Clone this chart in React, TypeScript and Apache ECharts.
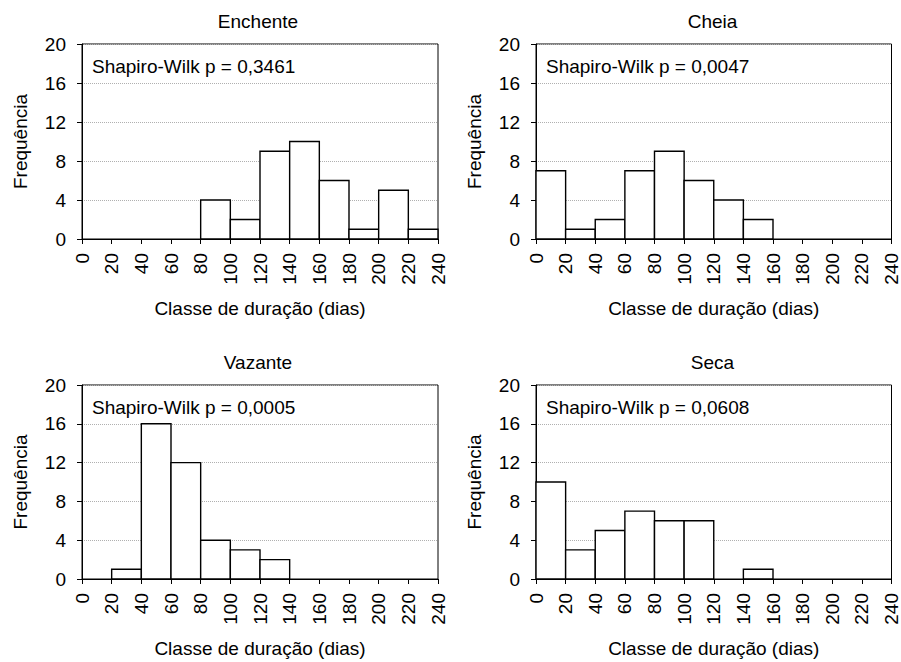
import React, { useEffect, useRef } from "react";
import * as echarts from "echarts";

// Class edges (days) and frequency of each 20-day class
const binEdges = [0, 20, 40, 60, 80, 100, 120, 140, 160, 180, 200, 220, 240];
const enchenteCounts = [0, 0, 0, 0, 4, 2, 9, 10, 6, 1, 5, 1];
const cheiaCounts = [7, 1, 2, 7, 9, 6, 4, 2, 0, 0, 0, 0];
const vazanteCounts = [0, 1, 16, 12, 4, 3, 2, 0, 0, 0, 0, 0];
const secaCounts = [10, 3, 5, 7, 6, 6, 0, 1, 0, 0, 0, 0];

const panelTitles = ["Enchente", "Cheia", "Vazante", "Seca"];
const shapiroLabels = [
  "Shapiro-Wilk p = 0,3461",
  "Shapiro-Wilk p = 0,0047",
  "Shapiro-Wilk p = 0,0005",
  "Shapiro-Wilk p = 0,0608",
];
const yTicks = [0, 4, 8, 12, 16, 20];

const FONT = "'Liberation Sans', Arial, sans-serif";
const TXT = "#000";
const FS = 19;

const grids = [
  { left: 82, top: 44, width: 356, height: 195 },
  { left: 536, top: 44, width: 357, height: 195 },
  { left: 82, top: 385, width: 356, height: 194 },
  { left: 536, top: 385, width: 357, height: 194 },
];

export default function App() {
  const ref = useRef<HTMLDivElement>(null);

  useEffect(() => {
    if (!ref.current) return;
    const chart = echarts.init(ref.current, null, { renderer: "svg" });
    const allCounts = [enchenteCounts, cheiaCounts, vazanteCounts, secaCounts];

    const xAxis = grids.map((_, i) => ({
      type: "value",
      gridIndex: i,
      min: binEdges[0],
      max: binEdges[binEdges.length - 1],
      interval: 20,
      name: "Classe de duração (dias)",
      nameLocation: "middle",
      nameGap: 60,
      nameTextStyle: { color: TXT, fontSize: FS, fontFamily: FONT },
      axisLine: { show: true, lineStyle: { color: "#000", width: 1 } },
      axisTick: { show: true, length: 5, lineStyle: { color: "#000" } },
      axisLabel: { rotate: 90, margin: 14, color: TXT, fontSize: FS, fontFamily: FONT },
      splitLine: { show: false },
    }));

    const yAxis = grids.map((_, i) => ({
      type: "value",
      gridIndex: i,
      min: yTicks[0],
      max: yTicks[yTicks.length - 1],
      interval: 4,
      name: "Frequência",
      nameLocation: "middle",
      nameGap: 52,
      nameTextStyle: { color: TXT, fontSize: FS, fontFamily: FONT },
      axisLine: { show: true, lineStyle: { color: "#000", width: 1 } },
      axisTick: { show: true, length: 5, lineStyle: { color: "#000" } },
      axisLabel: { margin: 16, color: TXT, fontSize: FS, fontFamily: FONT },
      splitLine: { show: true, lineStyle: { color: "#b0b0b0", type: [1, 1], width: 1 } },
    }));

    const series = allCounts.map((counts, i) => ({
      type: "custom",
      xAxisIndex: i,
      yAxisIndex: i,
      encode: { x: [0, 1], y: 2 },
      data: counts.map((c, k) => [binEdges[k], binEdges[k + 1], c]),
      renderItem: (params: any, api: any) => {
        const start = api.value(0);
        const end = api.value(1);
        const count = api.value(2);
        if (!count) return null;
        const p0 = api.coord([start, count]);
        const p1 = api.coord([end, 0]);
        return {
          type: "rect",
          shape: { x: p0[0], y: p0[1], width: p1[0] - p0[0], height: p1[1] - p0[1] },
          style: { fill: "#fff", stroke: "#000", lineWidth: 1.4 },
        };
      },
    }));

    const graphic: any[] = [];
    grids.forEach((g, i) => {
      graphic.push({
        type: "text",
        x: g.left + g.width / 2 - 2,
        y: g.top - 23,
        style: {
          text: panelTitles[i],
          fill: TXT,
          font: `${FS}px ${FONT}`,
          align: "center",
          verticalAlign: "middle",
        },
      });
      graphic.push({
        type: "text",
        x: g.left + 10,
        y: g.top + 22,
        style: {
          text: shapiroLabels[i],
          fill: TXT,
          font: `${FS}px ${FONT}`,
          align: "left",
          verticalAlign: "middle",
        },
      });
    });

    chart.setOption({
      animation: false,
      backgroundColor: "#fff",
      grid: grids.map((g) => ({
        ...g,
        show: true,
        borderColor: "#000",
        borderWidth: 1,
        backgroundColor: "transparent",
      })),
      xAxis,
      yAxis,
      series,
      graphic,
    });

    return () => chart.dispose();
  }, []);

  return (
    <div
      ref={ref}
      style={{ position: "absolute", left: 0, top: 0, width: 901, height: 662 }}
    />
  );
}
